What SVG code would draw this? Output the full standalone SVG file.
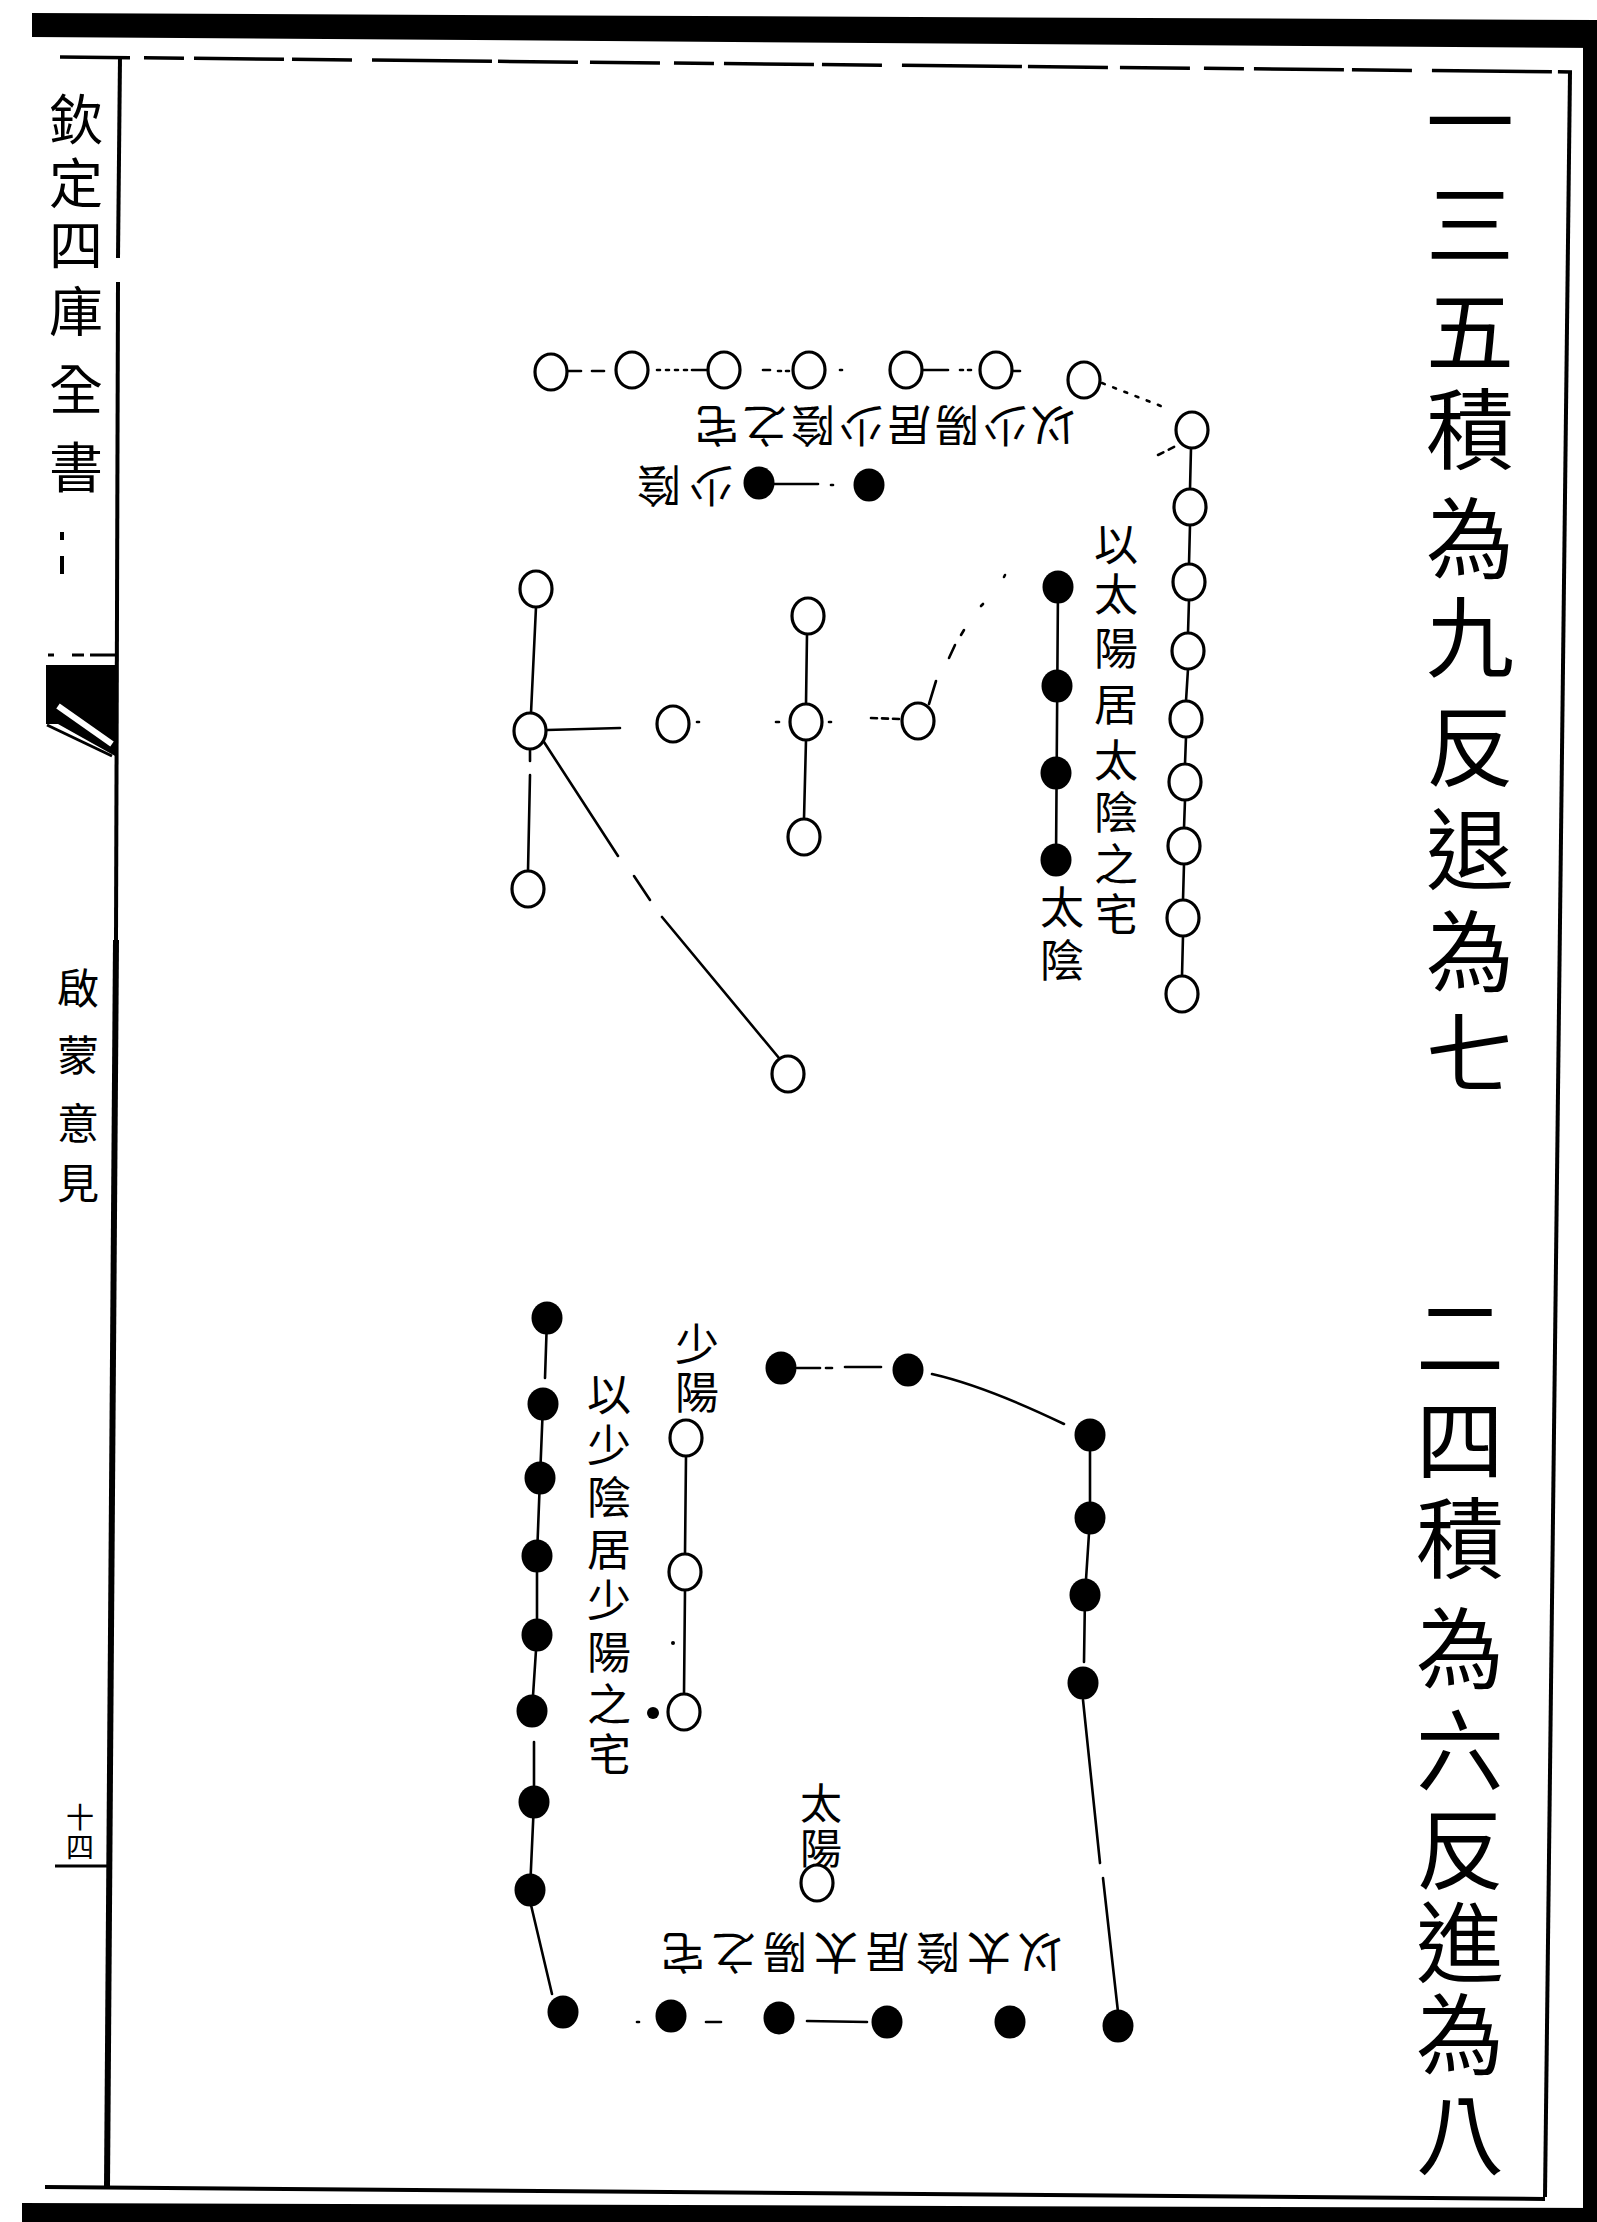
<svg xmlns="http://www.w3.org/2000/svg" width="1597" height="2222" viewBox="0 0 1597 2222">
<style>
.o{fill:#fff;stroke:#000;stroke-width:3.2}
.b{fill:#000}
.ln{stroke:#000;stroke-width:2.6;fill:none;stroke-linecap:round}
.fr{stroke:#000;fill:none}
.t{font-family:"Noto Sans CJK TC","Noto Sans CJK SC",sans-serif;fill:#000;text-anchor:middle;dominant-baseline:central}
.big{font-size:88px}
.sm{font-size:44px}
</style>
<defs>
<ellipse id="oc" class="o" cx="0" cy="0" rx="16" ry="18"/>
<ellipse id="bc" class="b" cx="0" cy="0" rx="15.5" ry="16.5"/>
</defs>
<rect width="1597" height="2222" fill="#fff"/>

<g id="frame">
<polygon points="32,13 1597,20 1597,48 32,37" fill="#000"/>
<rect x="1583" y="20" width="14" height="2202" fill="#000"/>
<polygon points="22,2203 1597,2208 1597,2222 22,2222" fill="#000"/>
<line class="fr" x1="60" y1="57" x2="1572" y2="72" stroke-width="3.5" stroke-dasharray="70 14 40 10 90 8 60 20 120 6 80 12"/>
<line class="fr" x1="1570" y1="72" x2="1545" y2="2197" stroke-width="4"/>
<line class="fr" x1="45" y1="2187" x2="1545" y2="2199" stroke-width="4"/>
<line class="fr" x1="120" y1="57" x2="118" y2="258" stroke-width="4"/>
<line class="fr" x1="118" y1="282" x2="116" y2="940" stroke-width="4"/>
<line class="fr" x1="116" y1="940" x2="107" y2="2187" stroke-width="6"/>
<line class="fr" x1="48" y1="655" x2="117" y2="655" stroke-width="3" stroke-dasharray="6 18 12 6 30 4"/>
<polygon points="46,665 117,665 117,757 108,752 58,724 46,724" fill="#000"/>
<line x1="58" y1="706" x2="112" y2="744" stroke="#fff" stroke-width="6"/>
<line class="fr" x1="47" y1="725" x2="112" y2="756" stroke-width="3"/>
<line class="fr" x1="55" y1="1866" x2="107" y2="1866" stroke-width="3"/>
<line class="fr" x1="62" y1="532" x2="62" y2="540" stroke-width="4"/>
<line class="fr" x1="62" y1="556" x2="62" y2="574" stroke-width="4"/>
</g>

<g id="side-texts">
<text class="t" font-size="54" x="76" y="116">欽</text>
<text class="t" font-size="54" x="76" y="180">定</text>
<text class="t" font-size="54" x="76" y="242">四</text>
<text class="t" font-size="54" x="76" y="308">庫</text>
<text class="t" font-size="54" x="76" y="386">全</text>
<text class="t" font-size="54" x="76" y="464">書</text>
<text class="t" font-size="42" x="78" y="985">啟</text>
<text class="t" font-size="42" x="78" y="1052">蒙</text>
<text class="t" font-size="42" x="78" y="1120">意</text>
<text class="t" font-size="42" x="78" y="1180">見</text>
<text class="t" font-size="28" x="80" y="1816">十</text>
<text class="t" font-size="28" x="80" y="1846">四</text>
</g>

<g id="title-top">
<text class="t big" x="1470" y="115">一</text>
<text class="t big" x="1470" y="218">三</text>
<text class="t big" x="1470" y="325">五</text>
<text class="t big" x="1470" y="423">積</text>
<text class="t big" x="1470" y="532">為</text>
<text class="t big" x="1470" y="631">九</text>
<text class="t big" x="1470" y="740">反</text>
<text class="t big" x="1470" y="843">退</text>
<text class="t big" x="1470" y="945">為</text>
<text class="t big" x="1470" y="1047">七</text>
</g>
<g id="title-bottom">
<text class="t big" x="1460" y="1331">二</text>
<text class="t big" x="1460" y="1434">四</text>
<text class="t big" x="1460" y="1532">積</text>
<text class="t big" x="1460" y="1642">為</text>
<text class="t big" x="1460" y="1744">六</text>
<text class="t big" x="1460" y="1843">反</text>
<text class="t big" x="1460" y="1936">進</text>
<text class="t big" x="1460" y="2028">為</text>
<text class="t big" x="1460" y="2128">八</text>
</g>

<g id="labels-top">
<text class="t sm" x="883" y="428" letter-spacing="4" transform="rotate(180 883 428)">以少陽居少陰之宅</text>
<text class="t sm" x="681" y="488" letter-spacing="8" transform="rotate(180 681 488)">少陰</text>
<g id="lbl-taiyang-taiyin">
<text class="t sm" x="1116" y="542">以</text>
<text class="t sm" x="1116" y="592">太</text>
<text class="t sm" x="1116" y="646">陽</text>
<text class="t sm" x="1116" y="702">居</text>
<text class="t sm" x="1116" y="758">太</text>
<text class="t sm" x="1116" y="810">陰</text>
<text class="t sm" x="1116" y="862">之</text>
<text class="t sm" x="1116" y="912">宅</text>
</g>
<text class="t sm" x="1062" y="905">太</text>
<text class="t sm" x="1062" y="958">陰</text>
</g>

<g id="labels-bottom">
<text class="t sm" x="697" y="1342">少</text>
<text class="t sm" x="697" y="1390">陽</text>
<g id="lbl-shaoyin-shaoyang">
<text class="t sm" x="609" y="1392">以</text>
<text class="t sm" x="609" y="1443">少</text>
<text class="t sm" x="609" y="1495">陰</text>
<text class="t sm" x="609" y="1547">居</text>
<text class="t sm" x="609" y="1598">少</text>
<text class="t sm" x="609" y="1650">陽</text>
<text class="t sm" x="609" y="1702">之</text>
<text class="t sm" x="609" y="1752">宅</text>
</g>
<text class="t" font-size="42" x="821" y="1800">太</text>
<text class="t" font-size="42" x="821" y="1845">陽</text>
<text class="t sm" x="858" y="1955" letter-spacing="7" transform="rotate(180 858 1955)">以太陰居太陽之宅</text>
</g>

<g id="connectors">
<line class="ln" x1="567" y1="371" x2="581" y2="371"/>
<line class="ln" x1="592" y1="371" x2="604" y2="371"/>
<line class="ln" x1="657" y1="370" x2="690" y2="370" stroke-dasharray="3 6"/>
<line class="ln" x1="692" y1="370" x2="707" y2="370"/>
<line class="ln" x1="763" y1="370" x2="770" y2="370"/>
<line class="ln" x1="778" y1="371" x2="789" y2="371" stroke-dasharray="3 5"/>
<line class="ln" x1="840" y1="370" x2="842" y2="370"/>
<line class="ln" x1="923" y1="370" x2="948" y2="370"/>
<line class="ln" x1="960" y1="370" x2="976" y2="370" stroke-dasharray="3 5"/>
<line class="ln" x1="1013" y1="371" x2="1020" y2="371"/>
<line class="ln" x1="1102" y1="383" x2="1166" y2="408" stroke-dasharray="3 9"/>
<line class="ln" x1="1158" y1="455" x2="1176" y2="446" stroke-dasharray="6 6"/>
<line class="ln" x1="1191" y1="448" x2="1190" y2="489"/>
<line class="ln" x1="1190" y1="525" x2="1189" y2="564"/>
<line class="ln" x1="1189" y1="600" x2="1188" y2="633"/>
<line class="ln" x1="1188" y1="669" x2="1186" y2="701"/>
<line class="ln" x1="1186" y1="737" x2="1185" y2="764"/>
<line class="ln" x1="1185" y1="800" x2="1184" y2="828"/>
<line class="ln" x1="1184" y1="864" x2="1183" y2="900"/>
<line class="ln" x1="1183" y1="936" x2="1182" y2="976"/>
<line class="ln" x1="770" y1="484" x2="818" y2="484"/>
<line class="ln" x1="831" y1="485" x2="833" y2="485"/>
<line class="ln" x1="1058" y1="587" x2="1056" y2="860"/>
<line class="ln" x1="536" y1="607" x2="531" y2="713"/>
<line class="ln" x1="530" y1="749" x2="530" y2="761"/>
<line class="ln" x1="530" y1="775" x2="528" y2="871"/>
<line class="ln" x1="547" y1="730" x2="620" y2="728"/>
<line class="ln" x1="697" y1="722" x2="699" y2="722"/>
<line class="ln" x1="807" y1="634" x2="806" y2="704"/>
<line class="ln" x1="806" y1="740" x2="804" y2="819"/>
<line class="ln" x1="776" y1="722" x2="779" y2="722"/>
<line class="ln" x1="829" y1="722" x2="831" y2="722"/>
<line class="ln" x1="871" y1="718" x2="899" y2="719" stroke-dasharray="6 5"/>
<line class="ln" x1="929" y1="704" x2="936" y2="681"/>
<line class="ln" x1="949" y1="658" x2="955" y2="645"/>
<line class="ln" x1="961" y1="635" x2="964" y2="630"/>
<line class="ln" x1="981" y1="606" x2="983" y2="604"/>
<line class="ln" x1="1004" y1="577" x2="1005" y2="575"/>
<line class="ln" x1="544" y1="742" x2="618" y2="856"/>
<line class="ln" x1="634" y1="876" x2="650" y2="900"/>
<line class="ln" x1="662" y1="917" x2="779" y2="1058"/>
<line class="ln" x1="547" y1="1318" x2="545" y2="1378"/>
<line class="ln" x1="544" y1="1390" x2="543" y2="1404"/>
<line class="ln" x1="543" y1="1404" x2="540" y2="1478"/>
<line class="ln" x1="540" y1="1478" x2="537" y2="1556"/>
<line class="ln" x1="537" y1="1556" x2="537" y2="1635"/>
<line class="ln" x1="537" y1="1635" x2="532" y2="1711"/>
<line class="ln" x1="532" y1="1711" x2="533" y2="1724"/>
<line class="ln" x1="534" y1="1742" x2="534" y2="1802"/>
<line class="ln" x1="534" y1="1802" x2="530" y2="1890"/>
<line class="ln" x1="531" y1="1905" x2="552" y2="1994"/>
<line class="ln" x1="637" y1="2022" x2="639" y2="2022"/>
<line class="ln" x1="706" y1="2022" x2="721" y2="2022"/>
<line class="ln" x1="807" y1="2021" x2="867" y2="2022"/>
<line class="ln" x1="1090" y1="1435" x2="1090" y2="1518"/>
<line class="ln" x1="1090" y1="1518" x2="1085" y2="1595"/>
<line class="ln" x1="1085" y1="1595" x2="1084" y2="1662"/>
<line class="ln" x1="1084" y1="1672" x2="1083" y2="1683"/>
<line class="ln" x1="1083" y1="1700" x2="1100" y2="1863"/>
<line class="ln" x1="1103" y1="1878" x2="1118" y2="2012"/>
<line class="ln" x1="797" y1="1368" x2="820" y2="1368"/>
<line class="ln" x1="826" y1="1368" x2="832" y2="1368"/>
<line class="ln" x1="845" y1="1367" x2="881" y2="1367"/>
<path class="ln" d="M932,1374 Q985,1386 1064,1424"/>
<line class="ln" x1="686" y1="1456" x2="685" y2="1554"/>
<line class="ln" x1="685" y1="1590" x2="684" y2="1694"/>
<circle cx="653" cy="1713" r="6" fill="#000"/>
<circle cx="673" cy="1643" r="2" fill="#000"/>
</g>

<g id="top-row">
<g id="n-t1"><use href="#oc" x="551" y="372"/></g>
<g id="n-t2"><use href="#oc" x="632" y="370"/></g>
<g id="n-t3"><use href="#oc" x="724" y="370"/></g>
<g id="n-t4"><use href="#oc" x="809" y="370"/></g>
<g id="n-t5"><use href="#oc" x="906" y="370"/></g>
<g id="n-t6"><use href="#oc" x="996" y="370"/></g>
<g id="n-t7"><use href="#oc" x="1084" y="380"/></g>
</g>
<g id="top-column">
<g id="n-c1"><use href="#oc" x="1192" y="430"/></g>
<g id="n-c2"><use href="#oc" x="1190" y="507"/></g>
<g id="n-c3"><use href="#oc" x="1189" y="582"/></g>
<g id="n-c4"><use href="#oc" x="1188" y="651"/></g>
<g id="n-c5"><use href="#oc" x="1186" y="719"/></g>
<g id="n-c6"><use href="#oc" x="1185" y="782"/></g>
<g id="n-c7"><use href="#oc" x="1184" y="846"/></g>
<g id="n-c8"><use href="#oc" x="1183" y="918"/></g>
<g id="n-c9"><use href="#oc" x="1182" y="994"/></g>
</g>
<g id="top-black">
<g id="n-k1"><use href="#bc" x="759" y="483"/></g>
<g id="n-k2"><use href="#bc" x="869" y="485"/></g>
<g id="n-k3"><use href="#bc" x="1058" y="587"/></g>
<g id="n-k4"><use href="#bc" x="1057" y="686"/></g>
<g id="n-k5"><use href="#bc" x="1056" y="773"/></g>
<g id="n-k6"><use href="#bc" x="1056" y="860"/></g>
</g>
<g id="top-left">
<g id="n-l1"><use href="#oc" x="536" y="589"/></g>
<g id="n-l2"><use href="#oc" x="530" y="731"/></g>
<g id="n-l3"><use href="#oc" x="528" y="889"/></g>
<g id="n-lh"><use href="#oc" x="673" y="724"/></g>
<g id="n-m1"><use href="#oc" x="808" y="616"/></g>
<g id="n-m2"><use href="#oc" x="806" y="722"/></g>
<g id="n-m3"><use href="#oc" x="804" y="837"/></g>
<g id="n-r"><use href="#oc" x="918" y="721"/></g>
<g id="n-d"><use href="#oc" x="788" y="1074"/></g>
</g>

<g id="bottom-left">
<g id="n-bl1"><use href="#bc" x="547" y="1318"/></g>
<g id="n-bl2"><use href="#bc" x="543" y="1404"/></g>
<g id="n-bl3"><use href="#bc" x="540" y="1478"/></g>
<g id="n-bl4"><use href="#bc" x="537" y="1556"/></g>
<g id="n-bl5"><use href="#bc" x="537" y="1635"/></g>
<g id="n-bl6"><use href="#bc" x="532" y="1711"/></g>
<g id="n-bl7"><use href="#bc" x="534" y="1802"/></g>
<g id="n-bl8"><use href="#bc" x="530" y="1890"/></g>
<g id="n-bl9"><use href="#bc" x="563" y="2012"/></g>
</g>
<g id="bottom-row">
<g id="n-bb2"><use href="#bc" x="671" y="2016"/></g>
<g id="n-bb3"><use href="#bc" x="779" y="2018"/></g>
<g id="n-bb4"><use href="#bc" x="887" y="2022"/></g>
<g id="n-bb5"><use href="#bc" x="1010" y="2022"/></g>
<g id="n-bb6"><use href="#bc" x="1118" y="2026"/></g>
</g>
<g id="bottom-right">
<g id="n-br1"><use href="#bc" x="1090" y="1435"/></g>
<g id="n-br2"><use href="#bc" x="1090" y="1518"/></g>
<g id="n-br3"><use href="#bc" x="1085" y="1595"/></g>
<g id="n-br4"><use href="#bc" x="1083" y="1683"/></g>
<g id="n-bt1"><use href="#bc" x="781" y="1368"/></g>
<g id="n-bt2"><use href="#bc" x="908" y="1370"/></g>
</g>
<g id="bottom-open">
<g id="n-bo1"><use href="#oc" x="686" y="1438"/></g>
<g id="n-bo2"><use href="#oc" x="685" y="1572"/></g>
<g id="n-bo3"><use href="#oc" x="684" y="1712"/></g>
<g id="n-bty"><use href="#oc" x="817" y="1883"/></g>
</g>
</svg>
